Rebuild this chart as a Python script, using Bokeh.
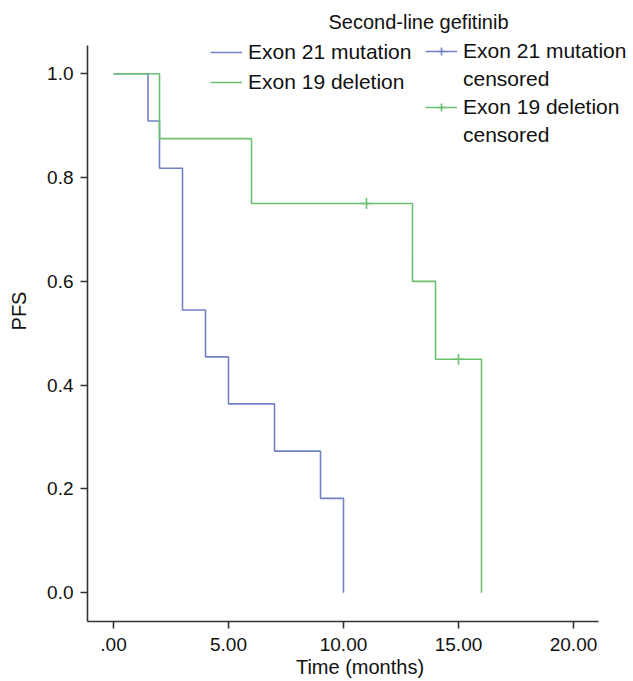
import math
from bokeh.plotting import figure
from bokeh.models import Range1d, FixedTicker, Legend, LegendItem, Label
from bokeh.embed import file_html
from bokeh.resources import INLINE

# Exon 21 mutation (blue)
ex21_time = [0, 1.5, 2, 3, 4, 5, 7, 9, 10]
ex21_pfs = [1.0, 0.909, 0.818, 0.545, 0.4545, 0.364, 0.273, 0.182, 0.0]
ex21_cens_time = []
ex21_cens_pfs = []

# Exon 19 deletion (green)
ex19_time = [0, 2, 6, 13, 14, 16]
ex19_pfs = [1.0, 0.875, 0.75, 0.6, 0.45, 0.0]
ex19_cens_time = [11, 15]
ex19_cens_pfs = [0.75, 0.45]

x_ticks = [0, 5, 10, 15, 20]
x_tick_labels = [".00", "5.00", "10.00", "15.00", "20.00"]
y_ticks = [0.0, 0.2, 0.4, 0.6, 0.8, 1.0]

BLUE = "#7282c6"
GREEN = "#6cc070"
FONT = "Liberation Sans"
AX = "#333333"
TXT = "#111111"

X0, X1, XB = -1.1304, 22.565, 21.09
Y0, Y1, YB = -0.0553, 1.1412, 1.0545

p = figure(width=632, height=681, output_backend="svg", toolbar_location=None,
           x_range=Range1d(X0, X1), y_range=Range1d(Y0, Y1),
           min_border_left=87, min_border_right=0, min_border_top=0, min_border_bottom=60)
p.outline_line_color = None
p.xgrid.visible = False
p.ygrid.visible = False
p.background_fill_color = "white"
p.border_fill_color = "white"

r21 = p.step(ex21_time, ex21_pfs, mode="after", line_color=BLUE, line_width=1.6)
r19 = p.step(ex19_time, ex19_pfs, mode="after", line_color=GREEN, line_width=1.6)
# no censored observations in the Exon 21 group: a NaN placeholder keeps its legend glyph
c21 = p.scatter(ex21_cens_time or [math.nan], ex21_cens_pfs or [math.nan], marker="cross",
                size=11, line_color=BLUE, line_width=1.6)
c19 = p.scatter(ex19_cens_time, ex19_cens_pfs, marker="cross", size=11,
                line_color=GREEN, line_width=1.6)
blank = p.scatter([math.nan], [math.nan], marker="cross", size=1, alpha=0)

for ax in (p.xaxis, p.yaxis):
    ax.axis_line_color = AX
    ax.axis_line_width = 1.6
    ax.major_tick_line_color = AX
    ax.major_tick_line_width = 1.6
    ax.major_tick_in = 0
    ax.major_tick_out = 7
    ax.minor_tick_line_color = None
    ax.major_label_text_font = FONT
    ax.major_label_text_font_size = "19px"
    ax.major_label_text_color = TXT
    ax.axis_label_text_font = FONT
    ax.axis_label_text_font_size = "20px"
    ax.axis_label_text_font_style = "normal"
    ax.axis_label_text_color = TXT

p.xaxis.bounds = (X0, XB)
p.xaxis.ticker = FixedTicker(ticks=x_ticks)
p.xaxis.major_label_overrides = {t: l for t, l in zip(x_ticks, x_tick_labels)}
p.xaxis.axis_label = "Time (months)"
p.xaxis.axis_label_standoff = 2
p.xaxis.major_label_standoff = 9

p.yaxis.bounds = (Y0, YB)
p.yaxis.ticker = FixedTicker(ticks=y_ticks)
p.yaxis.major_label_overrides = {t: f"{t:.1f}" for t in y_ticks}
p.yaxis.axis_label = "PFS"
p.yaxis.axis_label_standoff = 14
p.yaxis.major_label_standoff = 7

title = Label(x=331, y=600, x_units="screen", y_units="screen",
              text="Second-line gefitinib", text_align="center", text_baseline="alphabetic",
              text_font=FONT, text_font_size="20px", text_color=TXT)
p.add_layout(title)

common = dict(background_fill_alpha=0, border_line_color=None,
              label_text_font=FONT, label_text_font_size="21px", label_text_color=TXT,
              padding=0, margin=0, orientation="vertical")
leg1 = Legend(items=[LegendItem(label="Exon 21 mutation", renderers=[r21]),
                     LegendItem(label="Exon 19 deletion", renderers=[r19])],
              location=(123, 526), glyph_width=32, glyph_height=20, label_standoff=6,
              spacing=4, label_height=26, **common)
leg2 = Legend(items=[LegendItem(label="Exon 21 mutation", renderers=[r21, c21]),
                     LegendItem(label="censored", renderers=[blank]),
                     LegendItem(label="Exon 19 deletion", renderers=[r19, c19]),
                     LegendItem(label="censored", renderers=[blank])],
              location=(338, 474), glyph_width=32, glyph_height=20, label_standoff=6,
              spacing=4, label_height=24, **common)
p.add_layout(leg1, "center")
p.add_layout(leg2, "center")

open("out.html", "w").write(file_html(p, INLINE))
